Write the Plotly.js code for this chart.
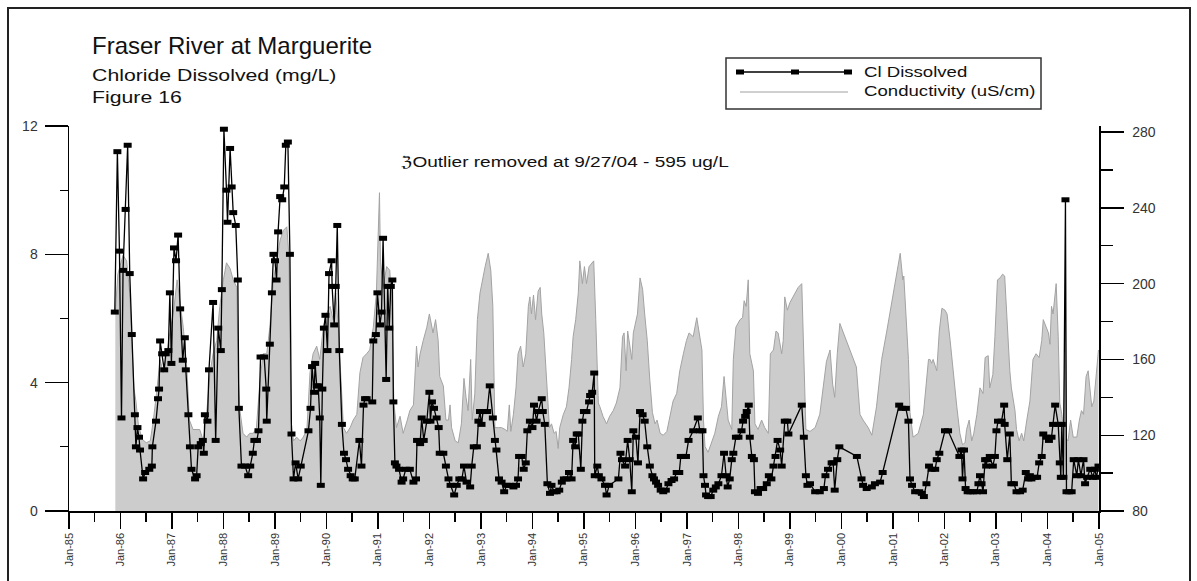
<!DOCTYPE html>
<html>
<head>
<meta charset="utf-8">
<script src="https://cdn.plot.ly/plotly-3.0.1.min.js"></script>
<style>
  html, body { margin: 0; padding: 0; background: #fff; }
  #chart { width: 1197px; height: 581px; }
</style>
</head>
<body>
<div id="chart"></div>
<script>
// ---------------- DATA ----------------
// Chloride dissolved (mg/L): sample time as decimal year, value
var clYears = [
1985.89,1985.94,1985.98,1986.02,1986.05,1986.10,1986.14,1986.18,1986.22,1986.28,1986.30,1986.33,1986.36,1986.38,1986.44,1986.48,1986.56,1986.61,1986.62,1986.69,
1986.73,1986.75,1986.77,1986.81,1986.85,1986.88,1986.93,1986.96,1986.99,1987.04,1987.08,1987.12,1987.16,1987.21,1987.25,1987.27,1987.32,1987.35,1987.38,1987.45,
1987.48,1987.51,1987.56,1987.60,1987.62,1987.64,1987.69,1987.72,1987.80,1987.85,1987.90,1987.95,1987.97,1988.01,1988.06,1988.08,1988.13,1988.16,1988.19,1988.24,
1988.28,1988.30,1988.35,1988.42,1988.48,1988.52,1988.57,1988.60,1988.65,1988.68,1988.72,1988.79,1988.83,1988.84,1988.90,1988.94,1988.97,1989.00,1989.03,1989.06,
1989.10,1989.14,1989.18,1989.21,1989.25,1989.29,1989.32,1989.36,1989.40,1989.45,1989.50,1989.65,1989.69,1989.72,1989.76,1989.78,1989.81,1989.84,1989.87,1989.89,
1989.92,1989.95,1989.98,1990.02,1990.05,1990.10,1990.11,1990.15,1990.18,1990.21,1990.25,1990.30,1990.34,1990.38,1990.42,1990.47,1990.51,1990.55,1990.64,1990.68,
1990.72,1990.75,1990.78,1990.89,1990.91,1990.96,1990.99,1991.04,1991.07,1991.10,1991.16,1991.19,1991.22,1991.25,1991.28,1991.30,1991.33,1991.36,1991.41,1991.46,
1991.49,1991.54,1991.62,1991.69,1991.74,1991.76,1991.82,1991.85,1991.89,1991.95,1992.00,1992.02,1992.05,1992.09,1992.14,1992.18,1992.20,1992.27,1992.32,1992.37,
1992.41,1992.48,1992.53,1992.58,1992.63,1992.67,1992.72,1992.79,1992.82,1992.86,1992.92,1992.95,1992.98,1993.01,1993.04,1993.12,1993.17,1993.23,1993.27,1993.30,
1993.35,1993.40,1993.45,1993.50,1993.56,1993.63,1993.68,1993.72,1993.74,1993.79,1993.83,1993.87,1993.90,1993.95,1994.00,1994.03,1994.08,1994.11,1994.18,1994.20,
1994.24,1994.29,1994.34,1994.37,1994.42,1994.47,1994.52,1994.57,1994.61,1994.66,1994.71,1994.76,1994.79,1994.83,1994.86,1994.89,1994.94,1994.97,1995.00,1995.05,
1995.10,1995.12,1995.16,1995.20,1995.21,1995.26,1995.29,1995.34,1995.41,1995.44,1995.49,1995.67,1995.71,1995.74,1995.80,1995.85,1995.89,1995.93,1995.96,1996.01,
1996.05,1996.09,1996.14,1996.18,1996.23,1996.28,1996.33,1996.36,1996.40,1996.44,1996.49,1996.54,1996.59,1996.64,1996.70,1996.75,1996.80,1996.85,1996.88,1996.93,
1996.98,1997.03,1997.12,1997.21,1997.25,1997.30,1997.32,1997.35,1997.37,1997.41,1997.46,1997.51,1997.56,1997.61,1997.67,1997.72,1997.76,1997.79,1997.83,1997.87,
1997.90,1997.95,1998.00,1998.06,1998.09,1998.13,1998.16,1998.20,1998.22,1998.26,1998.30,1998.32,1998.38,1998.43,1998.48,1998.55,1998.59,1998.64,1998.68,1998.72,
1998.76,1998.81,1998.84,1998.90,1998.95,1998.97,1999.23,1999.27,1999.31,1999.34,1999.39,1999.49,1999.58,1999.66,1999.69,1999.74,1999.81,1999.84,1999.87,1999.92,
1999.96,2000.30,2000.39,2000.42,2000.49,2000.59,2000.65,2000.75,2000.80,2001.12,2001.17,2001.25,2001.30,2001.33,2001.37,2001.43,2001.51,2001.56,2001.60,2001.65,
2001.70,2001.75,2001.82,2001.85,2001.90,2002.01,2002.07,2002.29,2002.33,2002.35,2002.38,2002.41,2002.45,2002.50,2002.56,2002.63,2002.66,2002.69,2002.72,2002.75,
2002.79,2002.81,2002.83,2002.88,2002.94,2002.98,2003.01,2003.04,2003.11,2003.16,2003.17,2003.22,2003.27,2003.30,2003.35,2003.40,2003.47,2003.52,2003.58,2003.63,
2003.66,2003.69,2003.76,2003.80,2003.84,2003.89,2003.92,2003.98,2004.03,2004.08,2004.11,2004.15,2004.21,2004.24,2004.26,2004.28,2004.31,2004.35,2004.37,2004.42,
2004.47,2004.51,2004.57,2004.60,2004.65,2004.70,2004.73,2004.77,2004.83,2004.88,2004.92,2004.95,2004.99
];
var clValues = [
6.2,11.2,8.1,2.9,7.5,9.4,11.4,7.4,5.5,3.0,2.0,2.6,2.3,1.9,1.0,1.2,1.3,1.4,2.0,2.8,
3.5,3.8,5.3,4.9,4.4,4.9,5.0,6.8,4.6,8.2,7.8,8.6,6.3,4.7,5.4,4.4,3.0,2.0,1.3,1.0,
1.1,2.0,2.1,2.2,1.8,3.0,2.8,4.4,6.5,2.2,5.7,5.0,6.9,11.9,10.0,9.0,11.3,10.1,9.3,8.9,
7.2,3.2,1.4,1.4,1.1,1.4,1.8,2.2,2.2,2.5,4.8,4.8,3.8,2.8,5.2,6.8,8.0,7.8,7.2,8.7,
9.8,9.7,10.1,11.4,11.5,8.0,2.4,1.0,1.5,1.0,1.4,2.5,3.2,4.5,3.7,4.6,3.9,3.9,2.9,0.8,
3.8,5.7,6.1,5.0,7.4,7.8,7.0,5.8,7.0,8.9,5.0,2.7,1.8,1.6,1.3,1.1,1.0,1.0,2.2,1.4,
3.3,3.5,3.5,3.4,5.3,5.5,6.8,5.8,6.2,8.5,4.1,7.0,5.7,7.0,7.2,3.4,1.5,1.4,1.3,0.9,
1.0,1.3,1.3,0.9,1.0,2.2,2.1,2.9,2.2,2.8,3.7,2.8,3.4,3.2,2.9,2.6,1.8,1.8,1.4,1.0,
0.8,0.5,0.8,1.0,1.0,1.4,0.9,0.75,1.4,2.0,2.0,2.8,3.1,2.7,3.1,3.1,3.9,2.9,2.2,1.9,
1.0,0.9,0.6,0.8,0.8,0.75,0.8,1.0,1.7,1.7,1.3,1.5,2.5,2.8,2.6,3.3,2.8,3.1,3.5,3.1,
2.7,0.85,0.55,0.8,0.6,0.6,0.65,0.9,1.0,1.0,1.2,1.0,2.2,2.0,2.4,2.4,1.3,2.8,3.1,3.1,
3.4,3.6,3.7,4.3,1.1,1.4,1.1,1.0,0.8,0.5,0.8,1.0,1.8,1.6,1.4,2.2,1.6,0.6,2.5,2.3,
1.5,3.1,3.0,2.8,2.0,1.4,1.1,1.0,0.9,0.8,0.65,0.6,0.65,0.85,0.95,1.0,1.2,1.2,1.7,1.7,
1.7,2.2,2.5,2.9,2.5,2.5,1.1,0.8,0.5,0.45,0.45,0.65,0.75,0.85,1.1,1.8,1.1,0.75,1.0,1.6,
1.8,2.3,2.3,2.5,2.8,2.95,3.1,3.3,2.3,1.7,1.6,0.6,0.55,0.7,0.7,0.85,1.1,1.0,1.4,1.7,
2.2,1.9,1.4,2.8,2.8,2.4,3.3,2.3,1.1,0.8,0.85,0.6,0.6,0.7,1.1,1.3,1.5,1.5,0.65,1.6,
2.0,1.7,1.0,0.8,0.7,0.75,0.85,0.9,1.2,3.3,3.2,3.2,2.8,1.0,0.8,0.6,0.6,0.55,0.45,0.85,
1.4,1.3,1.3,1.6,1.8,2.5,2.5,1.7,1.9,1.0,1.9,0.7,0.6,0.6,0.6,0.6,0.85,1.1,0.85,0.6,
1.6,1.4,1.6,1.7,1.4,1.7,2.5,2.8,2.8,3.3,2.7,1.6,2.4,0.85,0.85,0.6,0.6,0.65,1.2,1.0,
1.1,1.0,1.05,1.05,1.5,1.7,2.4,2.3,2.2,2.3,2.7,3.3,2.7,1.5,1.05,2.7,1.05,9.7,0.6,0.6,
0.6,1.6,1.1,1.6,1.1,1.6,0.85,1.05,1.3,1.05,1.3,1.05,1.4
];

// Conductivity (uS/cm): decimal year, value
var condYears = [
1985.90,1985.95,1986.05,1986.12,1986.18,1986.22,1986.26,1986.30,1986.35,1986.42,1986.50,1986.58,1986.64,1986.70,1986.77,1986.83,1986.90,1986.96,1987.03,1987.10,
1987.16,1987.22,1987.29,1987.34,1987.41,1987.47,1987.54,1987.61,1987.67,1987.74,1987.80,1987.87,1987.93,1988.00,1988.06,1988.13,1988.19,1988.26,1988.29,1988.32,
1988.38,1988.45,1988.51,1988.58,1988.64,1988.71,1988.77,1988.84,1988.90,1988.97,1989.03,1989.10,1989.16,1989.23,1989.27,1989.31,1989.36,1989.42,1989.49,1989.55,
1989.62,1989.68,1989.74,1989.81,1989.87,1989.94,1990.00,1990.07,1990.13,1990.18,1990.23,1990.28,1990.33,1990.39,1990.46,1990.52,1990.59,1990.65,1990.71,1990.78,
1990.84,1990.91,1990.97,1991.03,1991.05,1991.10,1991.17,1991.23,1991.27,1991.31,1991.36,1991.43,1991.49,1991.56,1991.62,1991.69,1991.75,1991.78,1991.82,1991.88,
1991.95,1992.00,1992.04,1992.07,1992.12,1992.17,1992.20,1992.27,1992.32,1992.37,1992.40,1992.43,1992.50,1992.56,1992.62,1992.67,1992.71,1992.75,1992.80,1992.83,
1992.88,1992.93,1992.98,1993.03,1993.08,1993.14,1993.19,1993.23,1993.27,1993.34,1993.40,1993.47,1993.51,1993.55,1993.58,1993.63,1993.68,1993.72,1993.77,1993.82,
1993.87,1993.92,1993.95,1993.98,1994.02,1994.06,1994.11,1994.15,1994.18,1994.22,1994.28,1994.33,1994.37,1994.42,1994.46,1994.50,1994.53,1994.60,1994.66,1994.71,
1994.76,1994.79,1994.84,1994.89,1994.92,1994.97,1995.01,1995.05,1995.10,1995.15,1995.19,1995.23,1995.28,1995.31,1995.37,1995.44,1995.50,1995.57,1995.63,1995.70,
1995.75,1995.78,1995.82,1995.85,1995.89,1995.93,1995.96,1996.01,1996.04,1996.09,1996.14,1996.18,1996.23,1996.28,1996.33,1996.38,1996.42,1996.48,1996.54,1996.61,
1996.67,1996.73,1996.80,1996.86,1996.93,1996.99,1997.04,1997.12,1997.19,1997.24,1997.29,1997.32,1997.35,1997.41,1997.48,1997.54,1997.61,1997.67,1997.72,1997.76,
1997.80,1997.87,1997.90,1997.95,1998.03,1998.08,1998.11,1998.15,1998.19,1998.22,1998.29,1998.32,1998.38,1998.45,1998.51,1998.58,1998.62,1998.68,1998.73,1998.77,
1998.84,1998.87,1998.90,1998.95,1999.00,1999.10,1999.16,1999.23,1999.27,1999.31,1999.39,1999.49,1999.58,1999.65,1999.71,1999.78,1999.83,1999.87,1999.92,1999.97,
2000.10,2000.20,2000.29,2000.36,2000.42,2000.52,2000.59,2000.68,2000.78,2000.88,2000.98,2001.07,2001.14,2001.19,2001.21,2001.30,2001.33,2001.39,2001.49,2001.59,
2001.69,2001.72,2001.75,2001.78,2001.85,2001.90,2001.95,2002.01,2002.05,2002.11,2002.17,2002.24,2002.30,2002.35,2002.40,2002.43,2002.48,2002.53,2002.57,2002.63,
2002.69,2002.75,2002.79,2002.85,2002.88,2002.94,2002.98,2003.03,2003.08,2003.13,2003.17,2003.24,2003.27,2003.30,2003.37,2003.40,2003.45,2003.50,2003.54,2003.60,
2003.66,2003.72,2003.78,2003.84,2003.89,2003.92,2003.97,2004.02,2004.05,2004.08,2004.11,2004.17,2004.21,2004.24,2004.28,2004.31,2004.35,2004.37,2004.40,2004.45,
2004.50,2004.57,2004.62,2004.66,2004.70,2004.75,2004.79,2004.83,2004.86,2004.90,2004.95,2004.99
];
var condValues = [
185,205,215,212,195,170,145,138,125,118,116,117,128,142,160,153,163,174,185,202,
188,177,155,128,123,123,123,117,130,153,163,170,188,202,211,208,202,198,149,133,
121,119,121,121,124,149,163,163,177,202,212,223,228,230,215,128,117,119,117,119,
123,153,163,167,160,177,184,188,181,195,177,149,124,121,124,128,131,153,161,163,
165,177,195,248,211,198,209,207,188,137,124,130,121,127,133,136,167,156,163,170,
177,184,177,174,181,170,151,146,128,128,136,124,117,116,126,150,140,133,160,128,
142,181,195,203,209,216,207,188,124,124,124,123,122,136,122,131,145,163,167,156,
163,188,193,184,194,181,196,198,184,174,145,124,126,121,122,113,124,131,135,145,
160,172,181,195,212,200,209,200,209,211,212,181,137,135,130,126,130,133,137,145,
172,174,154,175,167,160,174,181,184,203,197,184,170,149,132,126,128,121,120,122,
131,138,142,154,163,170,174,172,182,174,165,128,114,111,117,121,130,135,151,140,
128,123,160,177,181,182,191,188,202,163,154,126,123,128,124,121,163,165,175,174,
163,170,193,186,190,195,198,200,154,123,122,124,131,145,159,165,147,140,163,179,
170,163,156,131,128,124,120,135,160,175,191,205,216,202,204,160,132,119,121,131,
160,160,158,160,154,175,187,186,184,170,152,135,121,115,116,123,128,117,121,131,
145,142,161,162,145,152,172,202,203,205,204,163,154,145,133,123,117,121,117,128,
138,160,163,161,170,181,177,174,168,188,184,200,172,137,131,123,178,118,117,128,
119,119,128,133,131,151,154,145,135,138,151,165
];

// Axis tick labels
var clTickVals = [0, 4, 8, 12];
var condTickVals = [80, 120, 160, 200, 240, 280];

// ---------------- helpers ----------------
function decYearToDate(d) {
  var y = Math.floor(d);
  var s = Date.UTC(y, 0, 1), e = Date.UTC(y + 1, 0, 1);
  var dt = new Date(s + (d - y) * (e - s));
  return dt.toISOString().slice(0, 19).replace('T', ' ');
}
var clDates = clYears.map(decYearToDate);
var condDates = condYears.map(decYearToDate);

// plot-area geometry used for paper-coordinate decorations
var W = 1197, H = 581, ML = 69, MR = 98, MT = 126, MB = 70;
var PW = W - ML - MR, PH = H - MT - MB;
function px(x) { return (x - ML) / PW; }
function py(y) { return (H - MB - y) / PH; }

var FONT = '"Liberation Sans", Arial, Helvetica, sans-serif';

var traces = [
  {
    type: 'scatter', mode: 'lines', name: 'Conductivity (uS/cm)',
    x: condDates, y: condValues, yaxis: 'y',
    fill: 'tozeroy', fillcolor: '#cccccc',
    line: { color: '#a3a3a3', width: 1 },
    hoverinfo: 'skip', showlegend: false
  },
  {
    type: 'scatter', mode: 'lines+markers', name: 'Cl Dissolved',
    x: clDates, y: clValues, yaxis: 'y2',
    line: { color: '#000', width: 1.3 },
    marker: { symbol: 'line-ew', size: 5.7, color: '#000', line: { color: '#000', width: 5 } },
    hoverinfo: 'skip', showlegend: false
  }
];

var shapes = [
  // outer frame
  { type: 'rect', xref: 'paper', yref: 'paper', x0: px(8), x1: px(1190), y0: py(590), y1: py(8),
    line: { color: '#222', width: 2 }, fillcolor: 'rgba(0,0,0,0)' },
  // legend box
  { type: 'rect', xref: 'paper', yref: 'paper', x0: px(726), x1: px(1041), y0: py(109), y1: py(58),
    line: { color: '#333', width: 1.5 }, fillcolor: 'rgba(0,0,0,0)' },
  // legend line 1
  { type: 'line', xref: 'paper', yref: 'paper', x0: px(740), x1: px(848), y0: py(72), y1: py(72),
    line: { color: '#000', width: 1.3 } },
  // legend line 2
  { type: 'line', xref: 'paper', yref: 'paper', x0: px(740), x1: px(848), y0: py(92), y1: py(92),
    line: { color: '#a0a0a0', width: 1 } }
];
[740, 795, 848].forEach(function (cx) {
  shapes.push({ type: 'rect', xref: 'paper', yref: 'paper',
    x0: px(cx - 4), x1: px(cx + 4), y0: py(72 + 2.5), y1: py(72 - 2.5),
    line: { width: 0 }, fillcolor: '#000' });
});

var annotations = [
  { text: 'Fraser River at Marguerite', x: px(90), y: py(46), size: 24 },
  { text: 'Chloride Dissolved (mg/L)', x: px(90), y: py(76), size: 17 },
  { text: 'Figure 16', x: px(90), y: py(97.5), size: 17 },
  { text: '\u2128Outlier removed at 9/27/04 - 595 ug/L', x: px(399), y: py(161.5), size: 15 },
  { text: 'Cl Dissolved', x: px(862), y: py(71.7), size: 15 },
  { text: 'Conductivity (uS/cm)', x: px(862), y: py(90.8), size: 15 }
].map(function (a) {
  return { text: a.text, x: a.x, y: a.y, xref: 'paper', yref: 'paper',
    xanchor: 'left', yanchor: 'middle', showarrow: false,
    font: { family: FONT, size: a.size, color: '#111' } };
});
// horizontal stretch of each annotation's text (reference lettering is wide)
var textScale = [1.0, 1.25, 1.25, 1.27, 1.24, 1.24];

var layout = {
  width: W, height: H,
  margin: { l: ML, r: MR, t: MT, b: MB, pad: 0 },
  paper_bgcolor: '#fff', plot_bgcolor: '#fff',
  font: { family: FONT, color: '#222' },
  showlegend: false,
  xaxis: {
    type: 'date', range: ['1985-01-01', '2005-01-01'],
    tick0: '1985-01-01', dtick: 'M12', tickformat: '%b-%y', tickangle: -90,
    ticks: 'outside', ticklen: 16, tickwidth: 1.3, tickcolor: '#000',
    minor: { dtick: 'M6', ticks: 'outside', ticklen: 9, tickwidth: 1.3, tickcolor: '#000', showgrid: false },
    showline: true, linecolor: '#000', linewidth: 1.5,
    showgrid: false, zeroline: false,
    tickfont: { family: FONT, size: 11, color: '#333' }
  },
  yaxis: {
    side: 'right', range: [80, 283.2],
    tickmode: 'array', tickvals: condTickVals,
    ticks: 'outside', ticklen: 23, tickwidth: 1.3, tickcolor: '#000',
    ticklabelstandoff: 6,
    minor: { dtick: 20, tick0: 80, ticks: 'outside', ticklen: 12, tickwidth: 1.3, tickcolor: '#000', showgrid: false },
    showline: true, linecolor: '#000', linewidth: 1.5,
    showgrid: false, zeroline: false,
    tickfont: { family: FONT, size: 14, color: '#333' }
  },
  yaxis2: {
    overlaying: 'y', side: 'left', anchor: 'x', range: [0, 12],
    tickmode: 'array', tickvals: clTickVals,
    ticks: 'outside', ticklen: 23, tickwidth: 1.3, tickcolor: '#000',
    ticklabelstandoff: 4,
    minor: { dtick: 2, tick0: 0, ticks: 'outside', ticklen: 8, tickwidth: 1.3, tickcolor: '#000', showgrid: false },
    showline: true, linecolor: '#000', linewidth: 1.5,
    showgrid: false, zeroline: false,
    tickfont: { family: FONT, size: 14, color: '#333' }
  },
  shapes: shapes,
  annotations: annotations
};

Plotly.newPlot('chart', traces, layout, { displayModeBar: false, staticPlot: true }).then(function (gd) {
  var groups = gd.querySelectorAll('g.annotation');
  groups.forEach(function (g) {
    var i = +g.getAttribute('data-index');
    var t = g.querySelector('text.annotation-text');
    if (!t || !textScale[i] || textScale[i] === 1) return;
    var bb = t.getBBox();
    var x0 = bb.x;
    var prev = t.getAttribute('transform') || '';
    t.setAttribute('transform', prev + ' translate(' + x0 + ',0) scale(' + textScale[i] + ',1) translate(' + (-x0) + ',0)');
  });
});
</script>
</body>
</html>
